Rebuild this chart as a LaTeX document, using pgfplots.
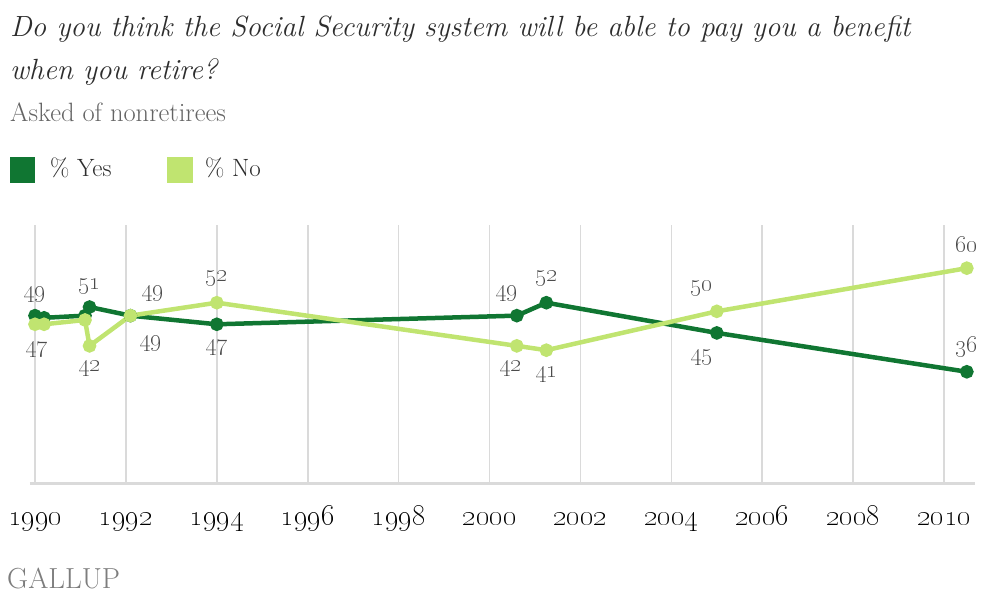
\documentclass[border=0pt]{standalone}
\usepackage{pgfplots}
\pgfplotsset{compat=1.18}
\definecolor{yesc}{RGB}{16,118,50}
\definecolor{noc}{RGB}{192,228,112}
\definecolor{gridc}{RGB}{218,218,218}
\definecolor{titc}{RGB}{45,45,45}
\definecolor{subc}{RGB}{100,100,100}
\definecolor{lblc}{RGB}{75,75,75}
\definecolor{logoc}{RGB}{125,125,125}
\newcommand{\lbl}[1]{\oldstylenums{#1}}
\begin{document}
\begin{tikzpicture}
\path[use as bounding box] (0pt,0pt) rectangle (986pt,594pt);
% titles
\node[anchor=base west, inner sep=0, text=titc, font=\fontsize{29.2}{32}\selectfont\itshape] at (10pt,557pt) {Do you think the Social Security system will be able to pay you a benefit};
\node[anchor=base west, inner sep=0, text=titc, font=\fontsize{29.2}{32}\selectfont\itshape] at (10pt,514pt) {when you retire?};
\node[anchor=base west, inner sep=0, text=subc, font=\fontsize{26.5}{28}\selectfont] at (10pt,472pt) {Asked of nonretirees};
% legend
\fill[yesc] (10pt,411pt) rectangle (35pt,437pt);
\node[anchor=base west, inner sep=0, text=titc, font=\fontsize{25}{26}\selectfont] at (50pt,417pt) {\% Yes};
\fill[noc] (167pt,411pt) rectangle (193pt,437pt);
\node[anchor=base west, inner sep=0, text=titc, font=\fontsize{25}{26}\selectfont] at (205pt,417pt) {\% No};
% logo
\node[anchor=base west, inner sep=0, text=logoc, font=\fontsize{29}{30}\selectfont] at (7pt,5pt) {GALLUP};
\begin{axis}[
  at={(30pt,110pt)}, anchor=south west, scale only axis,
  width=945pt, height=259pt,
  xmin=1989.89, xmax=2010.68, ymin=10, ymax=70,
  axis y line=none, axis x line*=bottom,
  x axis line style={gridc, line width=3pt},
  xtick={1990,1992,...,2010},
  xticklabels={\lbl{1990},\lbl{1992},\lbl{1994},\lbl{1996},\lbl{1998},\lbl{2000},\lbl{2002},\lbl{2004},\lbl{2006},\lbl{2008},\lbl{2010}},
  xticklabel style={anchor=base, yshift=-42pt, font=\fontsize{28}{30}\selectfont, text=black},
  xmajorgrids, grid style={gridc, line width=1.6pt},
  major tick length=0pt, tick style={draw=none},
  ytick=\empty,
  clip=false,
]
\addplot[yesc, line width=4.5pt, mark=*, mark size=4.5pt] coordinates {
 (1990,49) (1990.2,48.5) (1991.1,49) (1991.2,51) (1992.1,49) (1994,47) (2000.6,49) (2001.25,52) (2005,45) (2010.5,36)};
\addplot[noc, line width=4.5pt, mark=*, mark size=4.5pt] coordinates {
 (1990,47) (1990.2,47) (1991.1,48) (1991.2,42) (1992.1,49) (1994,52) (2000.6,42) (2001.25,41) (2005,50) (2010.5,60)};
\tikzset{dl/.style={text=lblc, font=\fontsize{26}{28}\selectfont, inner sep=0}}
% Yes labels
\node[dl, xshift=0pt, yshift=21pt] at (axis cs:1990,49) {\lbl{49}};
\node[dl, xshift=0pt, yshift=20pt] at (axis cs:1991.2,51) {\lbl{51}};
\node[dl, xshift=22pt, yshift=22pt] at (axis cs:1992.1,49) {\lbl{49}};
\node[dl, xshift=0pt, yshift=-23pt] at (axis cs:1994,47) {\lbl{47}};
\node[dl, xshift=-10pt, yshift=22pt] at (axis cs:2000.6,49) {\lbl{49}};
\node[dl, xshift=0pt, yshift=24pt] at (axis cs:2001.25,52) {\lbl{52}};
\node[dl, xshift=-15pt, yshift=-25pt] at (axis cs:2005,45) {\lbl{45}};
\node[dl, xshift=0pt, yshift=25pt] at (axis cs:2010.5,36) {\lbl{36}};
% No labels
\node[dl, xshift=2pt, yshift=-25pt] at (axis cs:1990,47) {\lbl{47}};
\node[dl, xshift=0pt, yshift=-23pt] at (axis cs:1991.2,42) {\lbl{42}};
\node[dl, xshift=20pt, yshift=-28pt] at (axis cs:1992.1,49) {\lbl{49}};
\node[dl, xshift=0pt, yshift=24pt] at (axis cs:1994,52) {\lbl{52}};
\node[dl, xshift=-6pt, yshift=-23pt] at (axis cs:2000.6,42) {\lbl{42}};
\node[dl, xshift=0pt, yshift=-24pt] at (axis cs:2001.25,41) {\lbl{41}};
\node[dl, xshift=-15pt, yshift=23pt] at (axis cs:2005,50) {\lbl{50}};
\node[dl, xshift=0pt, yshift=24pt] at (axis cs:2010.5,60) {\lbl{60}};
\end{axis}
\end{tikzpicture}
\end{document}
